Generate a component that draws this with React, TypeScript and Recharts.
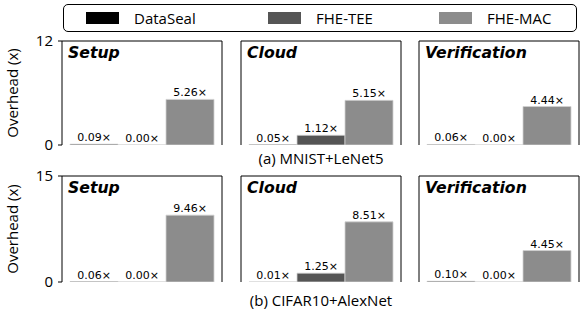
import React from "react";
import { BarChart, Bar, XAxis, YAxis, LabelList } from "recharts";

// stages shown as the three panels in each row
const stages = ["Setup", "Cloud", "Verification"];
const seriesNames = ["DataSeal", "FHE-TEE", "FHE-MAC"];
const seriesColors = ["#000000", "#555555", "#8c8c8c"];

// (a) MNIST+LeNet5
const mnistDataSeal = [0.09, 0.05, 0.06];
const mnistFheTee = [0.0, 1.12, 0.0];
const mnistFheMac = [5.26, 5.15, 4.44];
const mnistTicks = [0, 12];

// (b) CIFAR10+AlexNet
const cifarDataSeal = [0.06, 0.01, 0.1];
const cifarFheTee = [0.0, 1.25, 0.0];
const cifarFheMac = [9.46, 8.51, 4.45];
const cifarTicks = [0, 15];

const captions = ["(a) MNIST+LeNet5", "(b) CIFAR10+AlexNet"];

const sans = "'Open Sans', sans-serif";
const dejavu = "'DejaVu Sans', sans-serif";

const panelLefts = [62, 241, 419];
const PLOT_W = 160;
const MT = 12; // room above the plot so the top tick label is not clipped
const MB = 8;

const buildRow = (ds: number[], tee: number[], mac: number[], i: number) => [
  { name: stages[i], DataSeal: ds[i], "FHE-TEE": tee[i], "FHE-MAC": mac[i] },
];

type PanelProps = {
  data: any[];
  ticks: number[];
  first: boolean;
  left: number;
  top: number;
  plotH: number;
  title: string;
};

const Panel = ({ data, ticks, first, left, top, plotH, title }: PanelProps) => {
  const yw = first ? 62 : 6;
  const w = yw + PLOT_W + 3;
  const h = MT + 1 + plotH + 6 + MB;
  return (
    <>
      <div style={{ position: "absolute", left: left - yw, top: top - MT - 1, width: w, height: h }}>
        <BarChart
          width={w}
          height={h}
          data={data}
          margin={{ top: MT, right: 2, left: 0, bottom: MB }}
          barCategoryGap={8}
          barGap={0}
        >
          <XAxis xAxisId="b" dataKey="name" type="category" hide />
          <XAxis
            xAxisId="v"
            type="number"
            domain={[0, 1]}
            ticks={[0, 0.5, 1]}
            interval={0}
            allowDataOverflow
            tick={false}
            tickSize={5}
            height={6}
            stroke="#000"
          />
          <XAxis
            xAxisId="t"
            orientation="top"
            type="number"
            domain={[0, 1]}
            ticks={[0, 1]}
            allowDataOverflow
            tick={false}
            tickLine={false}
            height={1}
            stroke="#000"
          />
          <YAxis
            yAxisId="l"
            type="number"
            domain={[0, ticks[1]]}
            ticks={ticks}
            interval={0}
            allowDataOverflow
            width={yw}
            tickSize={4}
            tickMargin={5}
            stroke="#000"
            tick={first ? { fill: "#000", stroke: "none", fontSize: 15, fontFamily: sans } : false}
            label={
              first
                ? {
                    value: "Overhead (x)",
                    angle: -90,
                    position: "insideLeft",
                    offset: 13,
                    style: { textAnchor: "middle", fontFamily: sans, fontSize: 15, fill: "#000" },
                  }
                : undefined
            }
          />
          <YAxis
            yAxisId="r"
            orientation="right"
            type="number"
            domain={[0, ticks[1]]}
            ticks={ticks}
            allowDataOverflow
            tick={false}
            tickLine={false}
            width={1}
            stroke="#000"
          />
          {seriesNames.map((s, i) => (
            <Bar
              key={s}
              xAxisId="b"
              yAxisId="l"
              dataKey={s}
              fill={seriesColors[i]}
              stroke="#d0d0d0"
              strokeWidth={0.8}
              minPointSize={0.01}
              isAnimationActive={false}
            >
              <LabelList
                dataKey={s}
                position="top"
                offset={3}
                fill="#000"
                formatter={(v: any) => `${Number(v).toFixed(2)}×`}
                style={{ fontFamily: dejavu, fontSize: 11, fill: "#000" }}
              />
            </Bar>
          ))}
        </BarChart>
      </div>
      <div
        style={{
          position: "absolute",
          left: left + 6,
          top: top + 4,
          fontFamily: dejavu,
          fontSize: 15.7,
          lineHeight: "15.7px",
          fontWeight: "bold",
          fontStyle: "italic",
          color: "#000",
        }}
      >
        {title}
      </div>
    </>
  );
};

const rows = [
  { ds: mnistDataSeal, tee: mnistFheTee, mac: mnistFheMac, ticks: mnistTicks, top: 41, plotH: 104, capY: 158 },
  { ds: cifarDataSeal, tee: cifarFheTee, mac: cifarFheMac, ticks: cifarTicks, top: 176, plotH: 106, capY: 300 },
];

const legendLefts = [22, 204, 375];

export default function App() {
  return (
    <div
      style={{
        position: "absolute",
        left: 0,
        top: 0,
        width: 582,
        height: 312,
        background: "#fff",
        overflow: "hidden",
      }}
    >
      {/* legend box */}
      <div
        style={{
          position: "absolute",
          left: 63,
          top: 4,
          width: 514,
          height: 28,
          border: "1px solid #000",
          borderRadius: 5,
          boxSizing: "border-box",
          zIndex: 2,
          background: "#fff",
        }}
      >
        {seriesNames.map((s, i) => (
          <div key={s} style={{ position: "absolute", left: legendLefts[i], top: 0, height: 26, display: "flex", alignItems: "center" }}>
            <div style={{ width: 33, height: 12, background: seriesColors[i] }} />
            <span style={{ marginLeft: 15, fontFamily: sans, fontSize: 15, color: "#000", lineHeight: "20px" }}>{s}</span>
          </div>
        ))}
      </div>

      {rows.map((r, ri) => (
        <React.Fragment key={ri}>
          {stages.map((st, i) => (
            <Panel
              key={st}
              data={buildRow(r.ds, r.tee, r.mac, i)}
              ticks={r.ticks}
              first={i === 0}
              left={panelLefts[i]}
              top={r.top}
              plotH={r.plotH}
              title={st}
            />
          ))}
          <div
            style={{
              position: "absolute",
              left: 221,
              width: 200,
              top: r.capY - 10,
              textAlign: "center",
              fontFamily: sans,
              fontSize: 15,
              lineHeight: "20px",
              color: "#000",
            }}
          >
            {captions[ri]}
          </div>
        </React.Fragment>
      ))}
    </div>
  );
}
